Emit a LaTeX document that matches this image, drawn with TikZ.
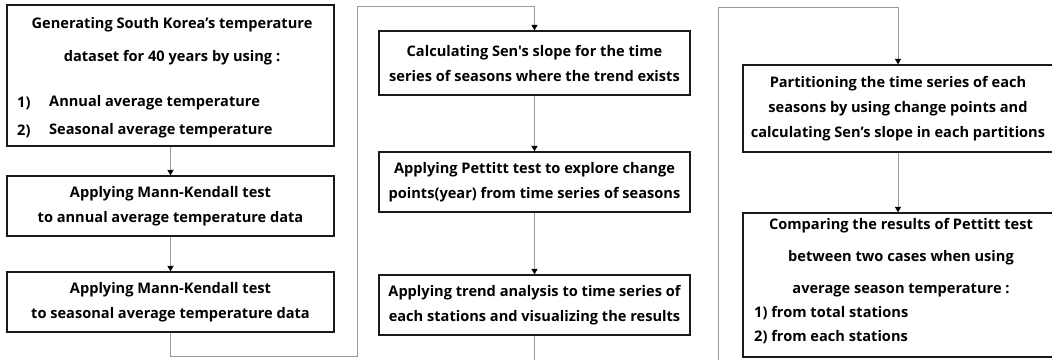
\documentclass[tikz,border=0pt]{standalone}
\usepackage{fontspec}
\setmainfont{Open Sans}[Ligatures=TeXOff]
\usetikzlibrary{arrows.meta}
\definecolor{boxline}{HTML}{1A1A1A}
\definecolor{wire}{HTML}{9A9A9A}
\tikzset{
  box/.style={draw=boxline, line width=1.3pt, fill=white, inner sep=0pt,
    align=center, font=\bfseries\fontsize{14.6}{25}\selectfont},
  txt/.style={inner sep=0pt, font=\bfseries\fontsize{14.6}{25}\selectfont},
  wireline/.style={draw=wire, line width=1pt},
  flow/.style={wireline, -{Triangle[width=6pt,length=5.5pt,color=black]}}
}
\begin{document}
\begin{tikzpicture}[x=1pt,y=-1pt]
\useasboundingbox (0,0) rectangle (1052,359);
\clip (0,0) rectangle (1052,359);

% first column
\node[box, minimum width=327pt, minimum height=141pt] (b1) at (170.5,75.5) {};
\node[txt] (t1a) at (172,25) {Generating South Korea’s temperature};
\node[txt] (t1b) at (172,58) {dataset for 40 years by using :};
\node[txt, anchor=west] (t1c) at (17,103) {1)};
\node[txt, anchor=west] (t1d) at (49,103) {Annual average temperature};
\node[txt, anchor=west] (t1e) at (17,131) {2)};
\node[txt, anchor=west] (t1f) at (49,131) {Seasonal average temperature};

\node[box, minimum width=327pt, minimum height=60pt] (b2) at (170.5,206)
  {Applying Mann-Kendall test\\to annual average temperature data};
\node[box, minimum width=327pt, minimum height=60pt] (b3) at (170.5,302)
  {Applying Mann-Kendall test\\to seasonal average temperature data};

% second column
\node[box, minimum width=311pt, minimum height=64pt] (b4) at (534.5,63)
  {Calculating Sen's slope for the time\\series of seasons where the trend exists};
\node[box, minimum width=311pt, minimum height=60pt] (b5) at (534.5,182)
  {Applying Pettitt test to explore change\\points(year) from time series of seasons};
\node[box, minimum width=311pt, minimum height=60pt] (b6) at (534.5,305)
  {Applying trend analysis to time series of\\each stations and visualizing the results};

% third column
\node[box, minimum width=310pt, minimum height=87pt] (b7) at (898,108.5)
  {Partitioning the time series of each\\seasons by using change points and\\calculating Sen’s slope in each partitions};
\node[box, minimum width=310pt, minimum height=144pt] (b8) at (898,285) {};
\node[txt] (t8a) at (901,226) {Comparing the results of Pettitt test};
\node[txt] (t8b) at (901,258) {between two cases when using};
\node[txt] (t8c) at (901,290) {average season temperature :};
\node[txt, anchor=west] (t8d) at (754,313) {1) from total stations};
\node[txt, anchor=west] (t8e) at (754,337) {2) from each stations};

% routing corners
\coordinate (k1) at (357,356);
\coordinate (k2) at (357,6);
\coordinate (k3) at (718,372);
\coordinate (k4) at (718,7);

% connectors
\draw[flow] (b1.south) -- (b2.north);
\draw[flow] (b2.south) -- (b3.north);
\draw[flow] (b3.south) |- (k1) -- (k2) -| (b4.north);
\draw[flow] (b4.south) -- (b5.north);
\draw[flow] (b5.south) -- (b6.north);
\draw[flow] (b6.south) |- (k3) -- (k4) -| (b7.north);
\draw[flow] (b7.south) -- (b8.north);
\end{tikzpicture}
\end{document}
